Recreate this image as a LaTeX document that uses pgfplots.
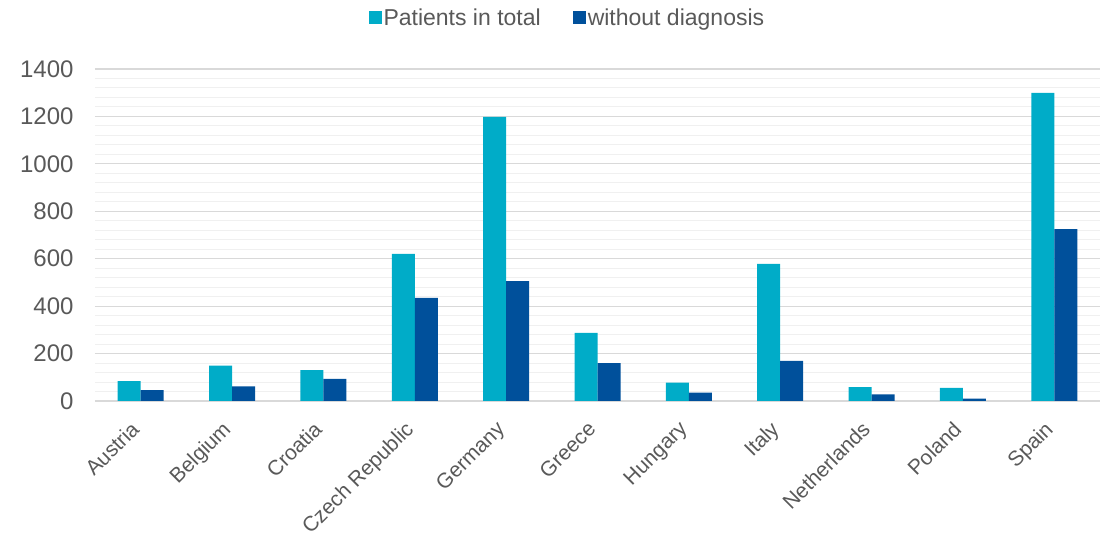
\documentclass[border=0pt]{standalone}
\usepackage{pgfplots}
\pgfplotsset{compat=1.18}
\usepackage{fontspec}
\setmainfont{Liberation Sans}
\definecolor{cyanbar}{RGB}{0,172,200}
\definecolor{bluebar}{RGB}{0,80,155}
\definecolor{txtgray}{RGB}{89,89,89}
\definecolor{majgrid}{RGB}{217,217,217}
\definecolor{mingrid}{RGB}{240,240,240}
\begin{document}
\begin{tikzpicture}
\path[use as bounding box] (0pt,0pt) rectangle (1101pt,540pt);
\begin{axis}[
  at={(95pt,139pt)}, anchor=south west,
  scale only axis, width=1005pt, height=332pt,
  ybar=0pt, bar width=23pt,
  xmin=-0.5, xmax=10.5, ymin=0, ymax=1400,
  xtick=data,
  xticklabels={Austria,Belgium,Croatia,Czech Republic,Germany,Greece,Hungary,Italy,Netherlands,Poland,Spain},
  ytick={0,200,...,1400},
  minor y tick num=4,
  ymajorgrids, yminorgrids,
  major grid style={majgrid, line width=1.2pt},
  minor grid style={mingrid, line width=1pt},
  axis line style={draw=none},
  axis x line*=bottom,
  axis y line*=left,
  major tick length=0pt, minor tick length=0pt,
  tick label style={text=txtgray},
  /pgf/number format/assume math mode=true,
  /pgf/number format/set thousands separator={},
  yticklabel style={font=\fontsize{24}{28}\selectfont, xshift=-18pt},
  xticklabel style={font=\fontsize{21}{25}\selectfont, anchor=north east, xshift=-11pt, yshift=-14pt, rotate=45},
  legend style={at={(0.470,1.154)}, anchor=center, draw=none, fill=none,
    legend columns=2, font=\fontsize{23}{27}\selectfont, text=txtgray,
    /tikz/every even column/.append style={column sep=30pt}},
  legend image code/.code={\fill[#1] (-3pt,-6.5pt) rectangle (10pt,6.5pt);},
  clip=false,
]
\draw[majgrid, line width=1.5pt] (rel axis cs:0,0) -- (rel axis cs:1,0);
\addplot[fill=cyanbar, draw=none] coordinates {
(0,84) (1,149) (2,130) (3,620) (4,1198) (5,287) (6,77) (7,578) (8,59) (9,55) (10,1299)};
\addplot[fill=bluebar, draw=none] coordinates {
(0,46) (1,62) (2,93) (3,435) (4,506) (5,160) (6,35) (7,169) (8,28) (9,10) (10,725)};
\legend{Patients in total, without diagnosis}
\end{axis}
\end{tikzpicture}
\end{document}
